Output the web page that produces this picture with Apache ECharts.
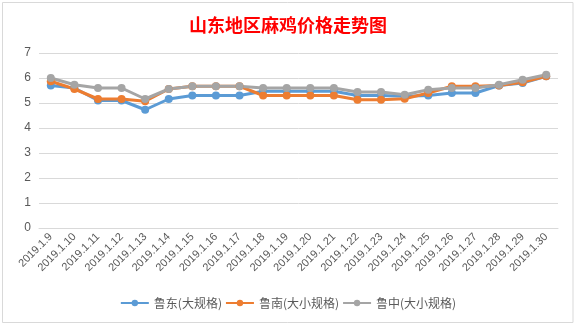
<!DOCTYPE html>
<html><head><meta charset="utf-8">
<script src="https://cdn.jsdelivr.net/npm/echarts@6/dist/echarts.min.js"></script>
<style>html,body{margin:0;padding:0;background:#fff}#c{width:576px;height:326px}</style>
</head><body><div id="c"></div>
<script>
const categories = ["2019.1.9","2019.1.10","2019.1.11","2019.1.12","2019.1.13","2019.1.14","2019.1.15","2019.1.16","2019.1.17","2019.1.18","2019.1.19","2019.1.20","2019.1.21","2019.1.22","2019.1.23","2019.1.24","2019.1.25","2019.1.26","2019.1.27","2019.1.28","2019.1.29","2019.1.30"];
const luDong = [5.7,5.6,5.1,5.1,4.73,5.16,5.3,5.3,5.3,5.47,5.47,5.47,5.47,5.3,5.3,5.27,5.3,5.4,5.4,5.7,5.8,6.07];
const luNan  = [5.87,5.56,5.16,5.16,5.07,5.56,5.67,5.67,5.67,5.3,5.3,5.3,5.3,5.13,5.13,5.17,5.4,5.67,5.67,5.7,5.83,6.07];
const luZhong= [6.0,5.73,5.6,5.6,5.16,5.56,5.67,5.67,5.67,5.6,5.6,5.6,5.6,5.44,5.44,5.33,5.53,5.6,5.6,5.73,5.93,6.13];
const seriesNames = ["鲁东(大规格)","鲁南(大小规格)","鲁中(大小规格)"];
const colors = ["#5B9BD5","#ED7D31","#A5A5A5"];
const chart = echarts.init(document.getElementById('c'));
const mk = (name, data, color) => ({
  name, type:'line', data, symbol:'circle', symbolSize:8,
  itemStyle:{color}, lineStyle:{color, width:3}
});
chart.setOption({
  animation:false,
  backgroundColor:'#fff',
  graphic:[{type:'rect',shape:{x:2.5,y:2.5,width:570.5,height:320},style:{fill:null,stroke:'#d9d9d9',lineWidth:1}}],
  title:{text:'山东地区麻鸡价格走势图',left:'center',top:11,textStyle:{color:'#FF0000',fontSize:18,fontWeight:'bold',fontFamily:'Noto Sans CJK SC'}},
  color:colors,
  grid:{left:39,right:18,top:53,bottom:98},
  legend:{bottom:12,left:'center',itemWidth:28,itemHeight:8,itemGap:3,
    textStyle:{color:'#595959',fontSize:12,fontFamily:'Noto Sans CJK SC'},
    data:seriesNames},
  xAxis:{type:'category',data:categories,boundaryGap:true,
    axisLine:{show:true,lineStyle:{color:'#d9d9d9'}},axisTick:{show:false},
    axisLabel:{rotate:45,color:'#595959',fontSize:11,margin:7,interval:0,fontFamily:'Liberation Sans'}},
  yAxis:{type:'value',min:0,max:7,interval:1,
    axisLine:{show:false},axisTick:{show:false},
    splitLine:{lineStyle:{color:'#d9d9d9'}},
    axisLabel:{color:'#595959',fontSize:12,margin:8,fontFamily:'Liberation Sans'}},
  series:[mk(seriesNames[0],luDong,colors[0]),mk(seriesNames[1],luNan,colors[1]),mk(seriesNames[2],luZhong,colors[2])]
});
</script></body></html>
